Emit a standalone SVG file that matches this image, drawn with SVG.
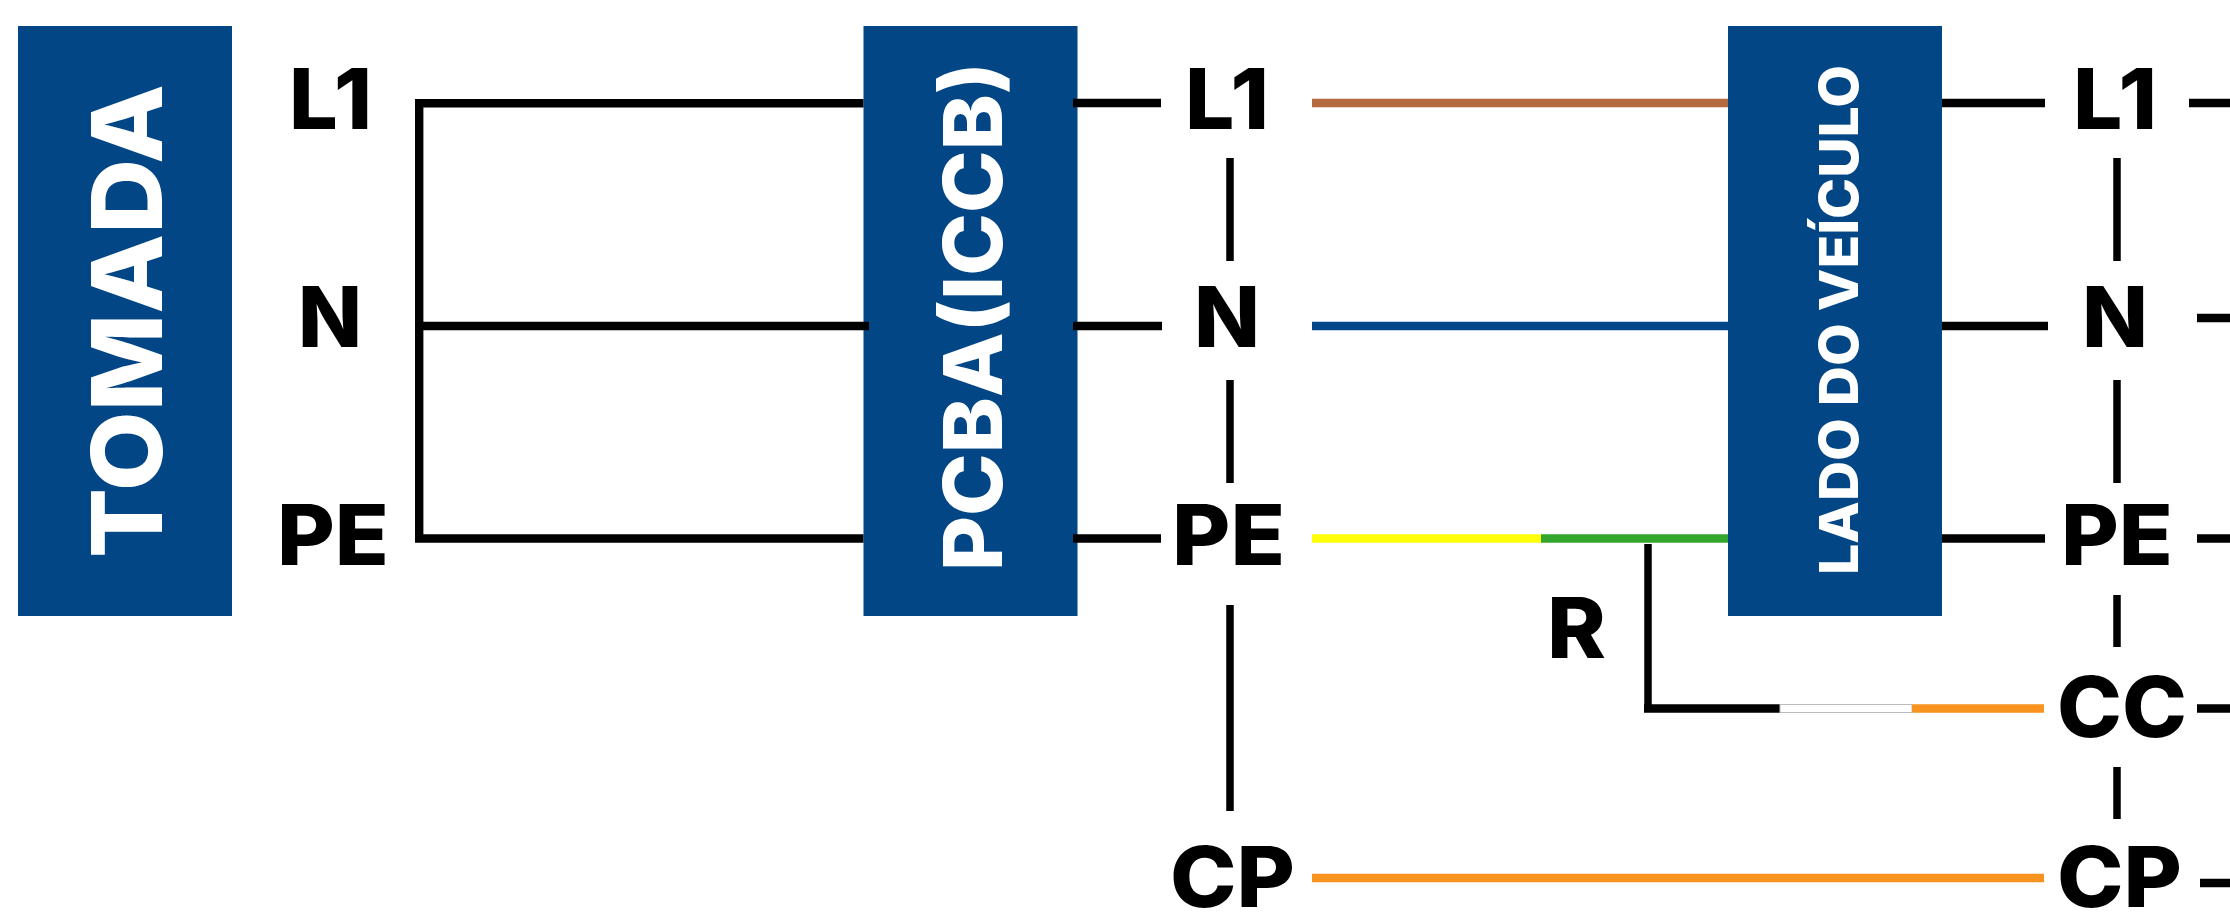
<svg xmlns="http://www.w3.org/2000/svg" width="2230" height="913" viewBox="0 0 2230 913">
<style>
.box{fill:#034686}
.t{font-family:Inter,"Liberation Sans",sans-serif;font-weight:800;font-size:84px;fill:#000}
.w{font-family:Inter,"Liberation Sans",sans-serif;font-weight:800;fill:#fff}
.k{fill:none;stroke:#000;stroke-width:8.400}
.c{fill:none;stroke-width:8.400}
.v{fill:none;stroke:#000;stroke-width:7.500}
</style>
<rect width="2230" height="913" fill="#fff"/>
<g id="tomada"><rect class="box" x="18" y="26" width="214" height="590"/><text class="w" transform="translate(162 558) rotate(-90)" font-size="98" textLength="474" lengthAdjust="spacingAndGlyphs">TOMADA</text></g>
<g id="pcba"><rect class="box" x="863.500" y="26" width="214" height="590"/><text class="w" transform="translate(1002 571) rotate(-90)" font-size="81" textLength="509" lengthAdjust="spacingAndGlyphs">PCBA(ICCB)</text></g>
<g id="lado"><rect class="box" x="1728" y="26" width="214" height="590"/><text class="w" transform="translate(1857.500 575) rotate(-90)" font-size="53" textLength="510" lengthAdjust="spacingAndGlyphs">LADO DO VEÍCULO</text></g>
<g id="connectors">
<path class="k" d="M863.500 103.200H419.200V538.500H863.500M423 326H869"/>
<path class="k" d="M1073 103H1161M1073 326H1162M1073 538.500H1161"/>
<path class="k" d="M1942 103H2045M1942 326H2048M1942 538.500H2045"/>
<path class="k" d="M2189 103H2230M2197 318H2230M2197 538.500H2230M2197 708.500H2230M2200 883H2230"/>
<path class="v" d="M1230 158V261M1230 380V483M1230 605V811M2117 158V261M2117 380V483M2117 595V647M2117 767V819"/>
<path class="c" d="M1312 103H1728" stroke="#B4693F"/>
<path class="c" d="M1312 326H1728" stroke="#03478A"/>
<path class="c" d="M1312 538.500H1541" stroke="#FFFF0A"/>
<path class="c" d="M1541 538.500H1728" stroke="#34A52D"/>
<path class="v" d="M1648 544V708.500"/>
<path class="c" d="M1644 708.500H1780" stroke="#000"/>
<rect x="1780" y="704.500" width="132" height="8" fill="#fff" stroke="#bbb" stroke-width="1"/>
<path class="c" d="M1912 708.500H2044" stroke="#F7931E"/>
<path class="c" d="M1312 878H2044" stroke="#F7931E"/>
</g>
<g id="col1">
<text class="t" x="289" y="129" textLength="83" lengthAdjust="spacingAndGlyphs">L1</text>
<text class="t" x="298" y="347" textLength="64" lengthAdjust="spacingAndGlyphs">N</text>
<text class="t" x="277" y="565" textLength="112" lengthAdjust="spacingAndGlyphs">PE</text>
</g>
<g id="col2">
<text class="t" x="1185" y="129" textLength="84" lengthAdjust="spacingAndGlyphs">L1</text>
<text class="t" x="1194" y="347" textLength="66" lengthAdjust="spacingAndGlyphs">N</text>
<text class="t" x="1172" y="565" textLength="113" lengthAdjust="spacingAndGlyphs">PE</text>
<text class="t" x="1170" y="907" textLength="125" lengthAdjust="spacingAndGlyphs">CP</text>
<text class="t" x="1547" y="658" textLength="59" lengthAdjust="spacingAndGlyphs">R</text>
</g>
<g id="col3">
<text class="t" x="2073" y="129" textLength="84" lengthAdjust="spacingAndGlyphs">L1</text>
<text class="t" x="2082" y="347" textLength="66" lengthAdjust="spacingAndGlyphs">N</text>
<text class="t" x="2061" y="565" textLength="112" lengthAdjust="spacingAndGlyphs">PE</text>
<text class="t" x="2057" y="737" textLength="130" lengthAdjust="spacingAndGlyphs">CC</text>
<text class="t" x="2057" y="907" textLength="125" lengthAdjust="spacingAndGlyphs">CP</text>
</g>
</svg>
